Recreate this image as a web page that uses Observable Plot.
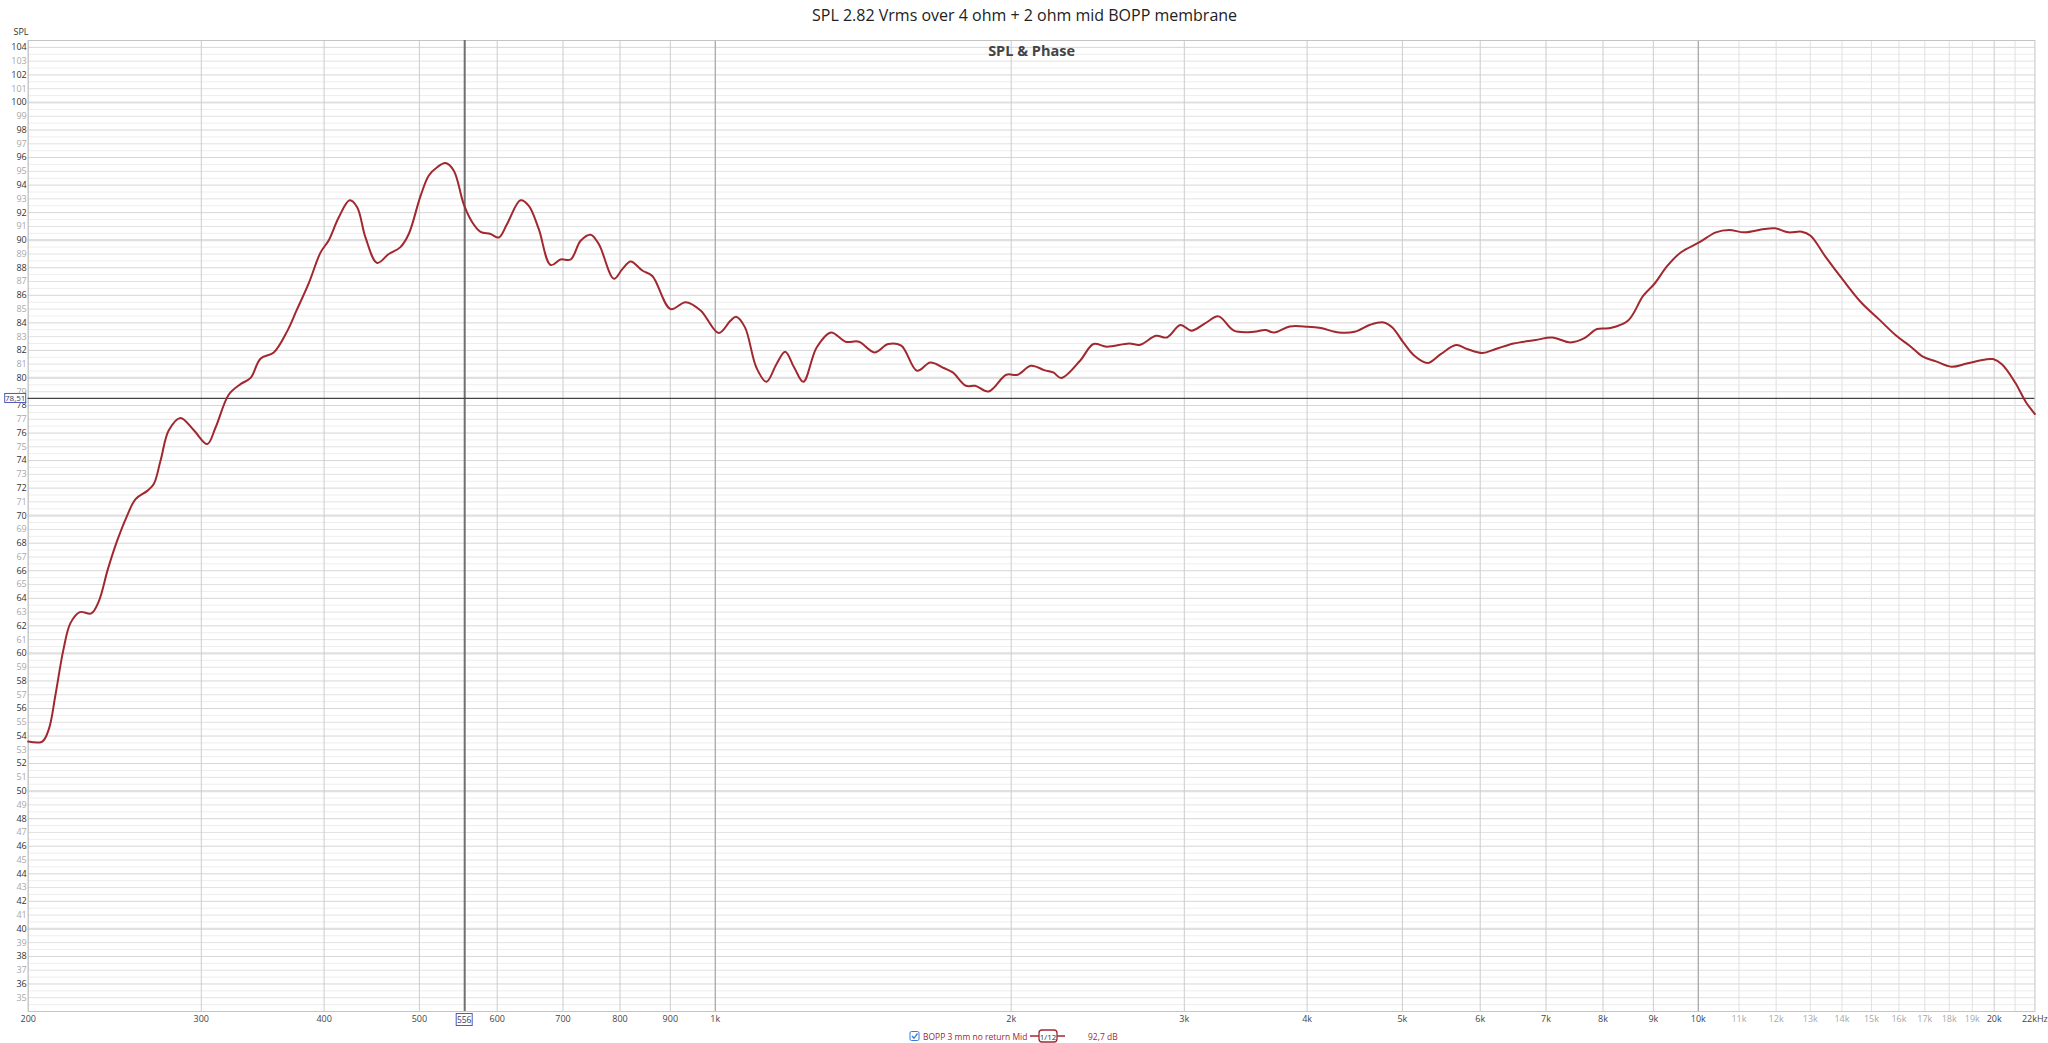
<!DOCTYPE html>
<html><head><meta charset="utf-8">
<script src="https://cdn.jsdelivr.net/npm/d3@7"></script>
<script src="https://cdn.jsdelivr.net/npm/@observablehq/plot@0.6"></script>
<style>html,body{margin:0;padding:0;background:#fff;overflow:hidden} svg{display:block}</style>
</head><body><div id="chart"></div>
<script>
// ---- data ----
const freqHz = [200,206.7,209.9,213.2,217.1,220.8,225.7,231.8,236.0,241.0,246.4,251.8,257.2,264.3,268.4,272.7,278.0,285.7,294.8,304.2,310.2,320.0,328.9,336.7,344.6,355.5,366.9,375,386,396.6,404.4,413.9,424.7,432.2,440.7,452.9,465.4,478.3,487.7,501.3,511.2,521.3,531.6,542.0,554.8,565.9,577.0,590.7,602.3,614.2,633.6,646.1,661.4,680.0,696.1,712.6,729.5,746.8,761.4,788.6,804.3,820.1,842.9,862.9,900.6,932.8,966.2,1008,1036,1050,1072,1101,1127,1154,1178,1203,1229,1268,1311,1357,1400,1452,1499,1546,1604,1655,1708,1744,1799,1838,1897,1977,2030,2094,2161,2207,2249,2350,2425,2502,2636,2706,2807,2881,2973,3051,3149,3250,3370,3533,3626,3703,3841,4005,4132,4309,4470,4636,4784,4884,5011,5142,5304,5470,5671,5819,6033,6222,6486,6829,7101,7414,7649,7889,8138,8480,8791,9020,9304,9596,10019,10420,10748,11142,11670,11976,12352,12740,13008,13486,14054,14646,15262,15904,16406,16922,17452,18092,18756,19542,19948,20364,21004,21552,22000];
const splDb = [53.6,53.6,54.5,57.0,60.2,62.2,63.0,62.9,63.8,66.1,68.2,69.9,71.2,71.8,72.3,74.0,76.2,77.1,76.2,75.2,76.4,78.8,79.55,80.0,81.4,81.85,83.4,84.9,86.9,89.1,90.0,91.65,92.9,92.4,90.2,88.35,89.0,89.5,90.45,93.2,94.7,95.3,95.6,95.05,92.6,91.3,90.6,90.45,90.2,91.2,92.9,92.5,90.8,88.2,88.6,88.6,89.96,90.4,89.7,87.2,87.9,88.46,87.8,87.4,85.0,85.5,84.9,83.26,84.15,84.44,83.67,80.76,79.72,81.0,81.9,80.76,79.72,82.21,83.3,82.63,82.63,81.85,82.46,82.34,80.52,81.12,80.72,80.4,79.43,79.43,79.02,80.23,80.23,80.88,80.57,80.4,79.99,81.25,82.46,82.27,82.5,82.41,83.06,82.94,83.84,83.43,83.96,84.47,83.43,83.35,83.48,83.3,83.74,83.72,83.62,83.3,83.35,83.86,84.03,83.67,82.58,81.61,81.08,81.73,82.39,82.1,81.81,82.1,82.5,82.75,82.94,82.58,82.87,83.55,83.62,84.15,85.97,86.82,88.15,89.11,89.84,90.57,90.74,90.57,90.81,90.86,90.57,90.62,90.33,88.75,87.06,85.48,84.27,83.06,82.34,81.54,81.2,80.81,81.05,81.32,81.37,80.99,79.67,78.22,77.38];

const yLabelsEven = [36,38,40,42,44,46,48,50,52,54,56,58,60,62,64,66,68,70,72,74,76,78,80,82,84,86,88,90,92,94,96,98,100,102,104];
const yLabelsOdd = [35,37,39,41,43,45,47,49,51,53,55,57,59,61,63,65,67,69,71,73,75,77,79,81,83,85,87,89,91,93,95,97,99,101,103];
const yTens = [40,50,60,70,80,90,100];
const xMainTicks = [200,300,400,500,600,700,800,900,1000,2000,3000,4000,5000,6000,7000,8000,9000,10000,20000,22000];
const xMainLabels = ["200","300","400","500","600","700","800","900","1k","2k","3k","4k","5k","6k","7k","8k","9k","10k","20k","22kHz"];
const xLightTicks = [11000,12000,13000,14000,15000,16000,17000,18000,19000];
const xLightLabels = ["11k","12k","13k","14k","15k","16k","17k","18k","19k"];
const xGridExtra = [21000];
const xMajor = [1000,10000];
const cursorHz = 556;
const cursorDb = 78.51;
const titleText = "SPL 2.82 Vrms over 4 ohm + 2 ohm mid BOPP membrane";
const innerTitle = "SPL & Phase";
const seriesName = "BOPP 3 mm no return Mid";
const smoothing = "1/12";
const levelText = "92,7 dB";

const curveColor = "#a1282e";
const data = freqHz.map((f, i) => ({f, db: splDb[i]}));
const mainLabels = xMainTicks.map((f, i) => ({f, label: xMainLabels[i]}));
const lightLabels = xLightTicks.map((f, i) => ({f, label: xLightLabels[i]}));
const halfTicks = d3.range(34.5, 104.5, 1);
const font = "'Open Sans', 'Noto Sans', sans-serif";

const chart = Plot.plot({
  width: 2048, height: 1043,
  marginLeft: 27.7, marginRight: 13.6, marginTop: 40, marginBottom: 32,
  x: {type: "log", domain: [200, 22000], axis: null},
  y: {domain: [34, 104.5], axis: null},
  style: {fontFamily: font, background: "#fff", overflow: "visible"},
  marks: [
    Plot.gridY({ticks: halfTicks, stroke: "#eeeeee", strokeOpacity: 1}),
    Plot.gridY({ticks: yLabelsOdd, stroke: "#e2e2e2", strokeOpacity: 1}),
    Plot.gridY({ticks: yLabelsEven, stroke: "#d6d6d6", strokeOpacity: 1}),
    Plot.gridY({ticks: yTens, stroke: "#e0e0e0", strokeWidth: 2.2, strokeOpacity: 1}),
    Plot.gridX({ticks: [...xLightTicks, ...xGridExtra], stroke: "#e0e0e0", strokeOpacity: 1}),
    Plot.gridX({ticks: xMainTicks.filter(t => !xMajor.includes(t) && t < 22000), stroke: "#cccccc", strokeOpacity: 1}),
    Plot.gridX({ticks: xMajor, stroke: "#a8a8a8", strokeWidth: 1.3, strokeOpacity: 1}),
    Plot.frame({stroke: "#c4c4c4"}),
    Plot.ruleX([cursorHz], {stroke: "#707070", strokeWidth: 2}),
    Plot.ruleY([cursorDb], {stroke: "#444444", strokeWidth: 1.2}),
    Plot.line(data, {x: "f", y: "db", stroke: curveColor, strokeWidth: 2, curve: "catmull-rom"}),
    Plot.axisY({ticks: yLabelsEven, tickSize: 0, tickPadding: 1.5, fontSize: 9, fill: "#333", label: null}),
    Plot.axisY({ticks: yLabelsOdd, tickSize: 0, tickPadding: 1.5, fontSize: 9, fill: "#a8a8a8", label: null}),
    Plot.text(mainLabels, {x: "f", text: "label", frameAnchor: "bottom", lineAnchor: "top", dy: 4, fontSize: 9, fill: "#444"}),
    Plot.text(lightLabels, {x: "f", text: "label", frameAnchor: "bottom", lineAnchor: "top", dy: 4, fontSize: 9, fill: "#a8a8a8"}),
    Plot.text([titleText], {frameAnchor: "top", lineAnchor: "middle", dx: -7, dy: -24.3, fontSize: 16, fill: "#222"}),
    Plot.text([innerTitle], {frameAnchor: "top", lineAnchor: "middle", dy: 10.5, fontSize: 14.5, fontWeight: "bold", fill: "#444"}),
    Plot.text(["SPL"], {frameAnchor: "top-left", lineAnchor: "middle", textAnchor: "start", dx: -14.7, dy: -8.5, fontSize: 9, fill: "#333"})
  ]
});
document.getElementById("chart").appendChild(chart);

// cursor readout boxes, positioned through the plot's scales
const xs = chart.scale("x"), ys = chart.scale("y");
const svg = d3.select(chart);
const g = svg.append("g").attr("font-family", font).attr("font-size", 8.5).attr("text-anchor", "middle");
const cx = xs.apply(cursorHz), cy = ys.apply(cursorDb);
const bottomY = ys.apply(34);
g.append("rect").attr("x", cx - 8).attr("y", bottomY + 2.5).attr("width", 16).attr("height", 12)
  .attr("fill", "#fff").attr("stroke", "#4a5ac0").attr("stroke-width", 1);
g.append("text").attr("x", cx).attr("y", bottomY + 8.5)
  .attr("dominant-baseline", "central").attr("fill", "#333a66").text(String(cursorHz));
const leftX = xs.apply(200);
g.append("rect").attr("x", leftX - 23).attr("y", cy - 4.5).attr("width", 21).attr("height", 9)
  .attr("fill", "#fff").attr("stroke", "#4a5ac0").attr("stroke-width", 1);
g.append("text").attr("x", leftX - 12.5).attr("y", cy)
  .attr("dominant-baseline", "central").attr("font-size", 8).attr("fill", "#333a66").text(String(cursorDb).replace(".", ","));

// legend below the plot
const ly = 1036;
const lg = svg.append("g").attr("font-family", font).attr("font-size", 8.5).attr("text-anchor", "start");
lg.append("rect").attr("x", 910).attr("y", ly - 4.5).attr("width", 9).attr("height", 9).attr("rx", 1.5)
  .attr("fill", "#fff").attr("stroke", "#3a7bd5").attr("stroke-width", 1);
lg.append("path").attr("d", `M912,${ly} L914,${ly + 2.3} L917.5,${ly - 2.5}`).attr("fill", "none")
  .attr("stroke", "#3a7bd5").attr("stroke-width", 1.3);
lg.append("text").attr("x", 923).attr("y", ly).attr("dominant-baseline", "central").attr("fill", curveColor).text(seriesName);
lg.append("line").attr("x1", 1030).attr("x2", 1065).attr("y1", ly).attr("y2", ly).attr("stroke", curveColor).attr("stroke-width", 1.5);
lg.append("rect").attr("x", 1039).attr("y", ly - 6).attr("width", 18).attr("height", 12).attr("rx", 3)
  .attr("fill", "#fff").attr("stroke", curveColor).attr("stroke-width", 1.3);
lg.append("text").attr("x", 1048).attr("y", ly).attr("text-anchor", "middle").attr("dominant-baseline", "central")
  .attr("font-size", 8).attr("fill", "#333").text(smoothing);
lg.append("text").attr("x", 1088).attr("y", ly).attr("dominant-baseline", "central").attr("fill", curveColor).text(levelText);
</script></body></html>
